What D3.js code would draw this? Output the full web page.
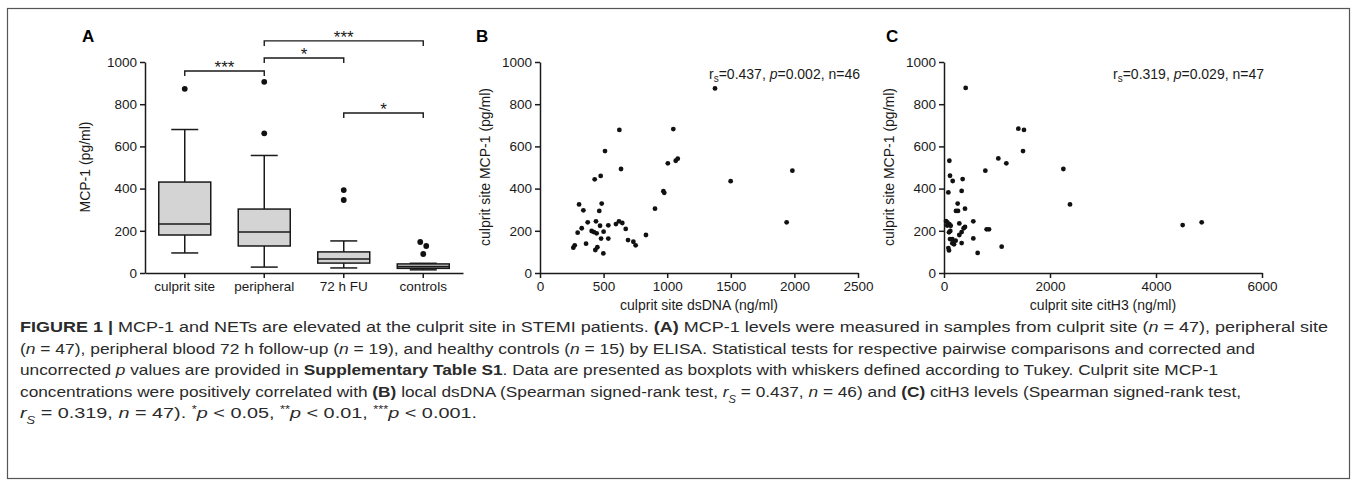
<!DOCTYPE html>
<html>
<head>
<meta charset="utf-8">
<script src="https://d3js.org/d3.v7.min.js"></script>
<style>
    body { margin: 0; background: #fff; }
    svg { display: block; }
    .axis path, .axis line { stroke: #1a1a1a; stroke-width: 1.5px; }
    .axis text { font-size: 13.5px; fill: #1a1a1a; }
</style>
</head>
<body>
<div id="chart"></div>
<script>
"use strict";

//Panel A: boxplot values (pg/ml)
var groups = ["culprit site", "peripheral", "72 h FU", "controls"];
var whiskerLow = [95, 28, 24, 15];
var q1 = [180, 128, 47, 22];
var median = [232, 194, 66, 30];
var q3 = [431, 303, 100, 43];
var whiskerHigh = [680, 557, 152, 46];
var outliers = [[873], [906, 662], [393, 346], [147, 128, 90]];
//pairwise comparisons: from group, to group, bracket level, label
var compFrom = [0, 1, 1, 2];
var compTo = [1, 2, 3, 3];
var compLevel = [957, 1019, 1100, 758];
var compLabel = ["***", "*", "***", "*"];
var yTicks = [0, 200, 400, 600, 800, 1000];

//Panel B: culprit site dsDNA (ng/ml) vs MCP-1 (pg/ml)
var dsDNA = [624, 511, 637, 430, 477, 1005, 970, 977, 307, 485,
    341, 466, 904, 375, 440, 621, 647, 296, 328, 406,
    424, 445, 472, 500, 537, 597, 674, 833, 362, 480,
    537, 692, 734, 752, 435, 451, 498, 262, 273, 1376,
    1048, 1067, 1083, 1499, 1984, 1939];
var mcpB = [678, 578, 493, 444, 460, 520, 388, 380, 325, 329,
    297, 294, 305, 240, 245, 245, 237, 191, 212, 199,
    194, 188, 224, 196, 226, 232, 209, 180, 139, 163,
    163, 156, 148, 131, 109, 122, 93, 120, 131, 875,
    682, 532, 542, 435, 485, 240];
var dsTicks = [0, 500, 1000, 1500, 2000, 2500];

//Panel C: culprit site citH3 (ng/ml) vs MCP-1 (pg/ml)
var citH3 = [409, 1403, 1509, 1491, 1025, 1176, 780, 2252, 2377, 101,
    113, 164, 352, 82, 333, 258, 226, 264, 396, 38,
    63, 101, 126, 289, 553, 94, 119, 396, 371, 333,
    289, 113, 157, 220, 157, 189, 333, 82, 94, 553,
    635, 805, 849, 1088, 4503, 4862, 60];
var mcpC = [877, 684, 678, 578, 543, 520, 485, 493, 325, 532,
    461, 436, 445, 382, 389, 329, 294, 294, 305, 246,
    240, 232, 224, 235, 245, 193, 199, 218, 212, 194,
    180, 161, 160, 153, 141, 136, 142, 118, 107, 164,
    95, 207, 207, 125, 227, 240, 225];
var citTicks = [0, 2000, 4000, 6000];

//Caption lines, as [text, style] segments
var caption = [
    [["FIGURE 1 |", "b"], [" MCP-1 and NETs are elevated at the culprit site in STEMI patients. ", ""], ["(A)", "b"],
        [" MCP-1 levels were measured in samples from culprit site (", ""], ["n", "i"], [" = 47), peripheral site", ""]],
    [["(", ""], ["n", "i"], [" = 47), peripheral blood 72 h follow-up (", ""], ["n", "i"], [" = 19), and healthy controls (", ""],
        ["n", "i"], [" = 15) by ELISA. Statistical tests for respective pairwise comparisons and corrected and", ""]],
    [["uncorrected ", ""], ["p", "i"], [" values are provided in ", ""], ["Supplementary Table S1", "b"],
        [". Data are presented as boxplots with whiskers defined according to Tukey. Culprit site MCP-1", ""]],
    [["concentrations were positively correlated with ", ""], ["(B)", "b"], [" local dsDNA (Spearman signed-rank test, ", ""],
        ["r", "i"], ["S", "sub"], [" = 0.437, ", ""], ["n", "i"], [" = 46) and ", ""], ["(C)", "b"],
        [" citH3 levels (Spearman signed-rank test,", ""]],
    [["r", "i"], ["S", "sub"], [" = 0.319, ", ""], ["n", "i"], [" = 47). ", ""], ["*", "sup"], ["p", "i"], [" < 0.05, ", ""],
        ["**", "sup"], ["p", "i"], [" < 0.01, ", ""], ["***", "sup"], ["p", "i"], [" < 0.001.", ""]]
];
var captionWidth = [1308, 1235, 1198, 1221, 457];

var W = 1357,
    H = 486,
    fmt = d3.format("d"),
    svg,
    yA,
    xA,
    gA,
    drawScatter,
    drawCaption;

svg = d3.select("#chart").append("svg")
    .attr("width", W)
    .attr("height", H)
    .attr("font-family", "'Liberation Sans', Arial, sans-serif");

//Frame round the figure
svg.append("rect")
    .attr("x", 7.5)
    .attr("y", 8.5)
    .attr("width", 1342)
    .attr("height", 470)
    .attr("fill", "none")
    .attr("stroke", "#555")
    .attr("stroke-width", 1.2);

//---------- Panel A ----------
yA = d3.scaleLinear().domain([0, 1000]).range([273, 62]);
xA = d3.scaleBand().domain(groups).range([145, 463]);
gA = svg.append("g");

gA.append("g")
    .attr("class", "axis")
    .attr("transform", "translate(145,0)")
    .call(d3.axisLeft(yA).tickValues(yTicks).tickFormat(fmt).tickSize(5).tickPadding(3).tickSizeOuter(0));

gA.append("g")
    .attr("class", "axis")
    .attr("transform", "translate(0,273)")
    .call(d3.axisBottom(xA).tickSize(5).tickPadding(3).tickSizeOuter(0));

gA.append("text")
    .attr("transform", "translate(90,167) rotate(-90)")
    .attr("text-anchor", "middle")
    .attr("font-size", 14)
    .attr("fill", "#1a1a1a")
    .text("MCP-1 (pg/ml)");

gA.append("text")
    .attr("x", 82)
    .attr("y", 42)
    .attr("font-size", 17)
    .attr("font-weight", "bold")
    .text("A");

groups.forEach(function(g, i) {
    var cx = xA(g) + xA.bandwidth() / 2,
        bw = 52,
        cw = 27;
    //whiskers
    gA.append("line")
        .attr("x1", cx).attr("x2", cx)
        .attr("y1", yA(whiskerHigh[i])).attr("y2", yA(q3[i]))
        .attr("stroke", "#1a1a1a").attr("stroke-width", 1.5);
    gA.append("line")
        .attr("x1", cx).attr("x2", cx)
        .attr("y1", yA(q1[i])).attr("y2", yA(whiskerLow[i]))
        .attr("stroke", "#1a1a1a").attr("stroke-width", 1.5);
    [whiskerHigh[i], whiskerLow[i]].forEach(function(v) {
        gA.append("line")
            .attr("x1", cx - cw / 2).attr("x2", cx + cw / 2)
            .attr("y1", yA(v)).attr("y2", yA(v))
            .attr("stroke", "#1a1a1a").attr("stroke-width", 1.5);
    });
    //box
    gA.append("rect")
        .attr("x", cx - bw / 2)
        .attr("y", yA(q3[i]))
        .attr("width", bw)
        .attr("height", yA(q1[i]) - yA(q3[i]))
        .attr("fill", "#d4d4d4")
        .attr("stroke", "#1a1a1a")
        .attr("stroke-width", 1.5);
    gA.append("line")
        .attr("x1", cx - bw / 2).attr("x2", cx + bw / 2)
        .attr("y1", yA(median[i])).attr("y2", yA(median[i]))
        .attr("stroke", "#1a1a1a").attr("stroke-width", 1.6);
    //outliers
    gA.selectAll(null)
        .data(outliers[i])
        .enter()
        .append("circle")
        .attr("cx", function(d, j) {
            return i === 3 ? cx + [-3, 3, 0][j] : cx;
        })
        .attr("cy", function(d) { return yA(d); })
        .attr("r", 2.9)
        .attr("fill", "#111");
});

//Significance brackets
compLabel.forEach(function(lab, k) {
    var x1 = xA(groups[compFrom[k]]) + xA.bandwidth() / 2,
        x2 = xA(groups[compTo[k]]) + xA.bandwidth() / 2,
        y = yA(compLevel[k]);
    gA.append("path")
        .attr("d", "M" + x1 + "," + (y + 5) + "V" + y + "H" + x2 + "V" + (y + 5))
        .attr("fill", "none")
        .attr("stroke", "#1a1a1a")
        .attr("stroke-width", 1.4);
    gA.append("text")
        .attr("x", (x1 + x2) / 2)
        .attr("y", y + 2)
        .attr("text-anchor", "middle")
        .attr("font-size", 17)
        .attr("fill", "#1a1a1a")
        .text(lab);
});

//---------- Panels B and C ----------
drawScatter = function(opts) {
    var g = svg.append("g"),
        x = d3.scaleLinear().domain(opts.xDomain).range(opts.xRange),
        y = d3.scaleLinear().domain([0, 1000]).range([273, 62]),
        stat;

    g.append("g")
        .attr("class", "axis")
        .attr("transform", "translate(" + opts.xRange[0] + ",0)")
        .call(d3.axisLeft(y).tickValues(yTicks).tickFormat(fmt).tickSize(5).tickPadding(3).tickSizeOuter(0));

    g.append("g")
        .attr("class", "axis")
        .attr("transform", "translate(0,273)")
        .call(d3.axisBottom(x).tickValues(opts.ticks).tickFormat(fmt).tickSize(5).tickPadding(3).tickSizeOuter(0));

    g.append("text")
        .attr("transform", "translate(" + (opts.xRange[0] - 50) + ",167) rotate(-90)")
        .attr("text-anchor", "middle")
        .attr("font-size", 14)
        .attr("fill", "#1a1a1a")
        .text("culprit site MCP-1 (pg/ml)");

    g.append("text")
        .attr("x", (opts.xRange[0] + opts.xRange[1]) / 2)
        .attr("y", 310)
        .attr("text-anchor", "middle")
        .attr("font-size", 14)
        .attr("fill", "#1a1a1a")
        .text(opts.xTitle);

    g.append("text")
        .attr("x", opts.letterX)
        .attr("y", 42)
        .attr("font-size", 17)
        .attr("font-weight", "bold")
        .text(opts.letter);

    stat = g.append("text")
        .attr("x", opts.xRange[1] + 2)
        .attr("y", 79)
        .attr("text-anchor", "end")
        .attr("font-size", 14)
        .attr("fill", "#1a1a1a");
    stat.append("tspan").text("r");
    stat.append("tspan").attr("font-size", 10).attr("dy", 3).text("s");
    stat.append("tspan").attr("dy", -3).text("=" + opts.r + ", ");
    stat.append("tspan").attr("font-style", "italic").text("p");
    stat.append("tspan").text("=" + opts.p + ", n=" + opts.n);

    g.selectAll(null)
        .data(opts.xs)
        .enter()
        .append("circle")
        .attr("cx", function(d) { return x(d); })
        .attr("cy", function(d, i) { return y(opts.ys[i]); })
        .attr("r", 2.4)
        .attr("fill", "#111");
};

drawScatter({
    xs: dsDNA, ys: mcpB, xDomain: [0, 2500], xRange: [540, 858], ticks: dsTicks,
    xTitle: "culprit site dsDNA (ng/ml)", letter: "B", letterX: 476,
    r: "0.437", p: "0.002", n: "46"
});
drawScatter({
    xs: citH3, ys: mcpC, xDomain: [0, 6000], xRange: [944, 1262], ticks: citTicks,
    xTitle: "culprit site citH3 (ng/ml)", letter: "C", letterX: 886,
    r: "0.319", p: "0.029", n: "47"
});

//---------- Caption ----------
drawCaption = function() {
    caption.forEach(function(line, i) {
        var t = svg.append("text")
            .attr("x", 20)
            .attr("y", 332 + i * 21.5)
            .attr("font-family", "'Liberation Sans Narrow', 'Liberation Sans', Arial, sans-serif")
            .attr("font-size", 15.5)
            .attr("fill", "#2a2a2a")
            .attr("textLength", captionWidth[i])
            .attr("lengthAdjust", "spacingAndGlyphs");
        line.forEach(function(seg) {
            var s = t.append("tspan").text(seg[0]);
            if (seg[1] === "b") { s.attr("font-weight", "bold"); }
            if (seg[1] === "i") { s.attr("font-style", "italic"); }
            if (seg[1] === "sub") { s.attr("font-style", "italic").attr("font-size", 10).attr("baseline-shift", "sub"); }
            if (seg[1] === "sup") { s.attr("font-size", 10).attr("baseline-shift", "super"); }
        });
    });
};
drawCaption();
</script>
</body>
</html>
